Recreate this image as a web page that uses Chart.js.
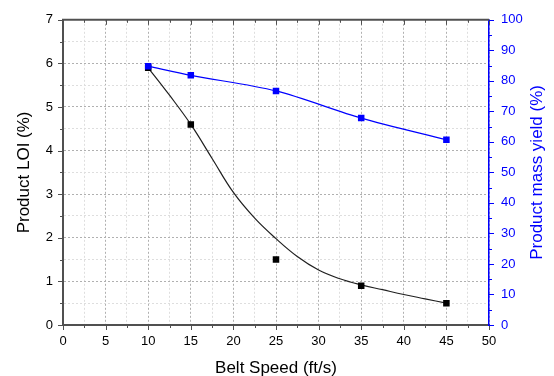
<!DOCTYPE html>
<html>
<head>
<meta charset="utf-8">
<script src="https://cdn.jsdelivr.net/npm/chart.js@4"></script>
<style>
  html, body { margin: 0; padding: 0; background: #fff; }
  canvas { display: block; }
</style>
</head>
<body>
<canvas id="c" width="554" height="376"></canvas>
<script>
// ---- data ----
const beltSpeed = [10, 15, 25, 35, 45];
const productLOI = [5.9, 4.6, 1.5, 0.9, 0.5];
const massYield = [84.8, 81.8, 76.7, 67.8, 60.7];
// fitted curve through the LOI points
const fitSpeed = [10, 12.5, 15, 17.5, 20, 22.5, 25, 27.5, 30, 32.5, 35, 37.5, 40, 42.5, 45];
const fitLOI   = [5.9, 5.27, 4.6, 3.82, 3.04, 2.45, 1.98, 1.57, 1.26, 1.06, 0.92, 0.81, 0.7, 0.6, 0.5];

const xTitle = 'Belt Speed (ft/s)';
const yTitle = 'Product LOI (%)';
const y1Title = 'Product mass yield (%)';

const AXIS = '#505050';
const BLUE = '#0000ff';
const FONT = "'Liberation Sans', Arial, sans-serif";

const toXY = (xs, ys) => xs.map((x, i) => ({ x: x, y: ys[i] }));

function near(v, step) { return Math.abs(v / step - Math.round(v / step)) < 1e-6; }

const tickPlugin = {
  id: 'ticks',
  afterDraw(chart) {
    const ctx = chart.ctx;
    const a = chart.chartArea;
    const x = chart.scales.x, y = chart.scales.y, y1 = chart.scales.y1;
    ctx.save();
    // top border
    ctx.strokeStyle = AXIS;
    ctx.lineWidth = 2;
    ctx.beginPath(); ctx.moveTo(a.left - 1, a.top); ctx.lineTo(a.right, a.top); ctx.stroke();
    ctx.lineWidth = 1;
    // x ticks (bottom outward, top inward)
    for (let v = 0; v <= 50.0001; v += 2.5) {
      const px = Math.round(x.getPixelForValue(v)) + 0.5;
      const len = near(v, 5) ? 5 : 3;
      ctx.beginPath();
      ctx.moveTo(px, a.bottom); ctx.lineTo(px, a.bottom + len);
      ctx.moveTo(px, a.top); ctx.lineTo(px, a.top + len);
      ctx.stroke();
    }
    // left y ticks outward
    for (let v = 0; v <= 7.0001; v += 0.5) {
      const py = Math.round(y.getPixelForValue(v)) + 0.5;
      const len = near(v, 1) ? 5 : 3;
      ctx.beginPath(); ctx.moveTo(a.left - len, py); ctx.lineTo(a.left, py); ctx.stroke();
    }
    // right y1 ticks outward, blue
    ctx.strokeStyle = BLUE;
    for (let v = 0; v <= 100.0001; v += 5) {
      const py = Math.round(y1.getPixelForValue(v)) + 0.5;
      const len = near(v, 10) ? 5 : 3;
      ctx.beginPath(); ctx.moveTo(a.right, py); ctx.lineTo(a.right + len, py); ctx.stroke();
    }
    // right axis title, reading bottom-to-top
    ctx.fillStyle = BLUE;
    ctx.font = '17px ' + FONT;
    ctx.textAlign = 'center';
    ctx.textBaseline = 'middle';
    ctx.translate(y1.right - 17, (a.top + a.bottom) / 2);
    ctx.rotate(-Math.PI / 2);
    ctx.fillText(y1Title, 0, 0);
    ctx.restore();
  }
};

new Chart(document.getElementById('c'), {
  type: 'scatter',
  data: {
    datasets: [
      {
        label: 'Product mass yield',
        data: toXY(beltSpeed, massYield),
        yAxisID: 'y1',
        showLine: true,
        borderColor: BLUE,
        borderWidth: 1.2,
        backgroundColor: BLUE,
        pointStyle: 'rect',
        pointRadius: 4.6,
        pointBorderWidth: 0,
        tension: 0.3
      },
      {
        label: 'Product LOI',
        data: toXY(beltSpeed, productLOI),
        yAxisID: 'y',
        showLine: false,
        backgroundColor: '#000',
        borderColor: '#000',
        pointStyle: 'rect',
        pointRadius: 4.6,
        pointBorderWidth: 0
      },
      {
        label: 'LOI fit',
        data: toXY(fitSpeed, fitLOI),
        yAxisID: 'y',
        showLine: true,
        borderColor: '#202020',
        borderWidth: 1.2,
        pointRadius: 0,
        tension: 0.4
      }
    ]
  },
  options: {
    responsive: false,
    animation: false,
    events: [],
    layout: { padding: { top: 13, left: 0, right: 0, bottom: 0 } },
    plugins: { legend: { display: false }, tooltip: { enabled: false } },
    scales: {
      x: {
        type: 'linear', position: 'bottom', min: 0, max: 50,
        afterFit: s => { s.height = 51; },
        ticks: {
          stepSize: 2.5, autoSkip: false, maxRotation: 0, padding: 9,
          color: '#000', font: { family: FONT, size: 13 },
          callback: v => near(v, 5) ? String(v) : ''
        },
        grid: {
          drawTicks: false,
          lineWidth: 1,
          color: c => (c.tick && near(c.tick.value, 5)) ? '#b0b0b0' : '#dedede'
        },
        border: { display: true, color: AXIS, width: 2, dash: [2, 2] },
        title: {
          display: true, text: xTitle, color: '#000',
          font: { family: FONT, size: 17, lineHeight: 1 },
          padding: { top: 0, bottom: -1 }
        }
      },
      y: {
        type: 'linear', position: 'left', min: 0, max: 7,
        afterFit: s => { s.width = 63; },
        ticks: {
          stepSize: 0.5, autoSkip: false, padding: 10,
          color: '#000', font: { family: FONT, size: 13 },
          callback: v => near(v, 1) ? String(v) : ''
        },
        grid: {
          drawTicks: false,
          lineWidth: 1,
          color: c => (c.tick && near(c.tick.value, 1)) ? '#b0b0b0' : '#dedede'
        },
        border: { display: true, color: AXIS, width: 2, dash: [2, 2] },
        title: {
          display: true, text: yTitle, color: '#000',
          font: { family: FONT, size: 17, lineHeight: 1 },
          padding: { top: 16, bottom: 0 }
        }
      },
      y1: {
        type: 'linear', position: 'right', min: 0, max: 100,
        afterFit: s => { s.width = 65; },
        ticks: {
          stepSize: 5, autoSkip: false, padding: 12,
          color: BLUE, font: { family: FONT, size: 13 },
          callback: v => near(v, 10) ? String(v) : ''
        },
        grid: { drawOnChartArea: false, drawTicks: false },
        border: { display: true, color: BLUE, width: 1.5 },
        title: { display: false }
      }
    }
  },
  plugins: [tickPlugin]
});
</script>
</body>
</html>
